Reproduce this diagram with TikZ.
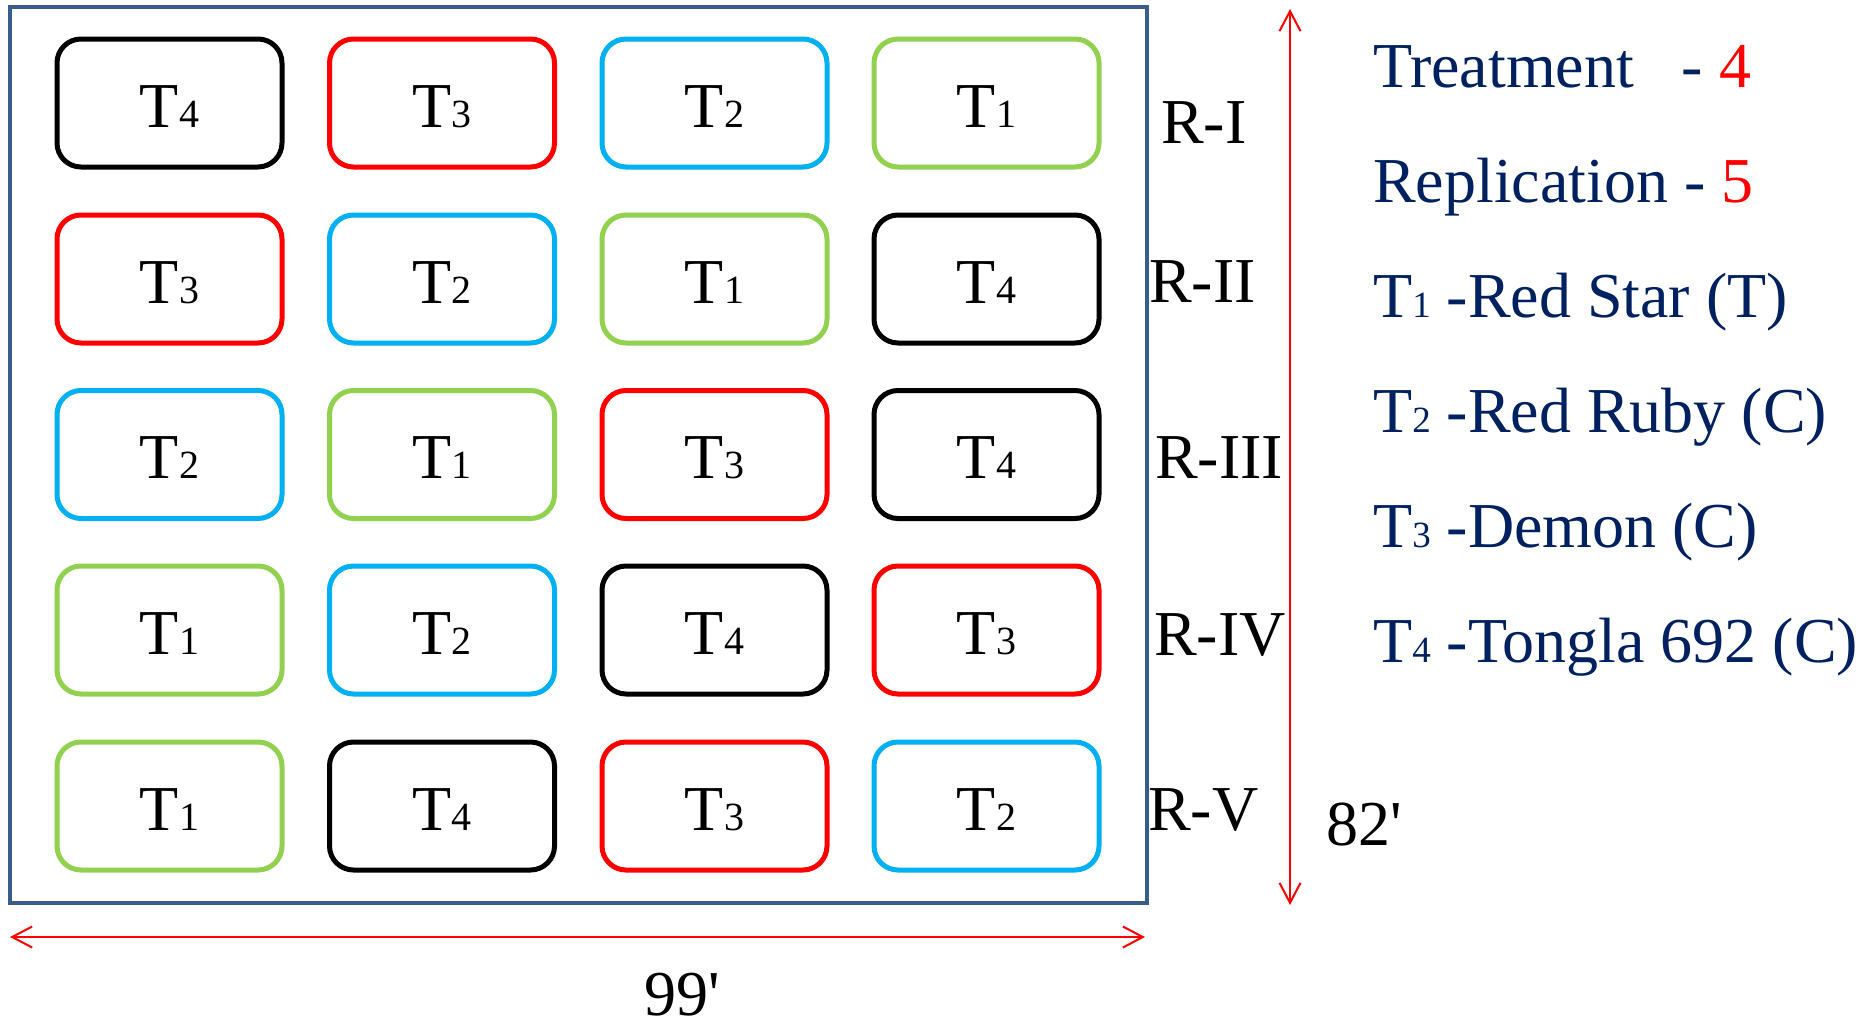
\documentclass[tikz,border=0pt]{standalone}
\usepackage{fontspec}
\setmainfont{Liberation Serif}
\usetikzlibrary{arrows.meta}
\definecolor{tgreen}{RGB}{146,208,80}
\definecolor{tblue}{RGB}{0,176,240}
\definecolor{tred}{RGB}{255,0,0}
\definecolor{frameblue}{RGB}{56,93,138}
\definecolor{navy}{RGB}{0,32,96}
\newcommand{\bigf}{\fontsize{64}{64}\selectfont}
\newcommand{\subf}{\fontsize{40}{40}\selectfont}
\newcommand{\lsubf}{\fontsize{37}{37}\selectfont}
\newcommand{\tlab}[1]{T{\subf #1}}
\newcommand{\llab}[1]{T{\lsubf #1}}
\tikzset{
  plot/.style={draw, rounded corners=24pt, line width=5pt, minimum width=225pt, minimum height=128pt, inner sep=0pt, text height=48pt, text depth=0pt, font=\bigf},
  tone/.style={plot, draw=tgreen},
  ttwo/.style={plot, draw=tblue},
  tthree/.style={plot, draw=tred},
  tfour/.style={plot, draw=black},
  rlab/.style={anchor=base west, inner sep=0pt, font=\bigf},
  leg/.style={anchor=base west, inner sep=0pt, font=\bigf, text=navy},
  dimarrow/.style={draw=tred, line width=2pt, {Straight Barb[length=20pt,width=21pt,line width=2pt]}-{Straight Barb[length=20pt,width=21pt,line width=2pt]}}
}
\begin{document}
\begin{tikzpicture}[x=1pt,y=-1pt]
\useasboundingbox (0,0) rectangle (1873,1026);
\fill[white] (0,0) rectangle (1873,1026);
% field frame
\draw[frameblue, line width=3.5pt] (10,7) rectangle (1147,903);
% row 1
\node[tfour]  (b11) at (169.5,103) {\tlab{4}};
\node[tthree] (b12) at (442,103)   {\tlab{3}};
\node[ttwo]   (b13) at (714.5,103) {\tlab{2}};
\node[tone]   (b14) at (986.5,103) {\tlab{1}};
% row 2
\node[tthree] (b21) at (169.5,279) {\tlab{3}};
\node[ttwo]   (b22) at (442,279)   {\tlab{2}};
\node[tone]   (b23) at (714.5,279) {\tlab{1}};
\node[tfour]  (b24) at (986.5,279) {\tlab{4}};
% row 3
\node[ttwo]   (b31) at (169.5,454.5) {\tlab{2}};
\node[tone]   (b32) at (442,454.5)   {\tlab{1}};
\node[tthree] (b33) at (714.5,454.5) {\tlab{3}};
\node[tfour]  (b34) at (986.5,454.5) {\tlab{4}};
% row 4
\node[tone]   (b41) at (169.5,630) {\tlab{1}};
\node[ttwo]   (b42) at (442,630)   {\tlab{2}};
\node[tfour]  (b43) at (714.5,630) {\tlab{4}};
\node[tthree] (b44) at (986.5,630) {\tlab{3}};
% row 5
\node[tone]   (b51) at (169.5,806) {\tlab{1}};
\node[tfour]  (b52) at (442,806)   {\tlab{4}};
\node[tthree] (b53) at (714.5,806) {\tlab{3}};
\node[ttwo]   (b54) at (986.5,806) {\tlab{2}};
% replication labels
\node[rlab] (r1) at (1161,143) {R-I};
\node[rlab] (r2) at (1149,302) {R-II};
\node[rlab] (r3) at (1155,478) {R-III};
\node[rlab] (r4) at (1154,655) {R-IV};
\node[rlab] (r5) at (1148,830) {R-V};
% dimension arrows
\coordinate (vt) at (1290,9);
\coordinate (vb) at (1290,905);
\draw[dimarrow] (vt) -- (vb);
\coordinate (hl) at (10,937);
\coordinate (hr) at (1145,937);
\draw[dimarrow] (hl) -- (hr);
\node[rlab] (d82) at (1326,845) {82\textquotesingle};
\node[anchor=base, inner sep=0pt, font=\bigf] (d99) at (682,1015) {99\textquotesingle};
% legend
\node[leg] (l1) at (1373,87)  {Treatment\hspace{32pt} -~\textcolor{tred}{4}};
\node[leg] (l2) at (1373,202) {Replication - \textcolor{tred}{5}};
\node[leg] (l3) at (1373,317) {\llab{1} -Red Star (T)};
\node[leg] (l4) at (1373,432) {\llab{2} -Red Ruby (C)};
\node[leg] (l5) at (1373,547) {\llab{3} -Demon (C)};
\node[leg] (l6) at (1373,662) {\llab{4} -Tongla 692 (C)};
\end{tikzpicture}
\end{document}
